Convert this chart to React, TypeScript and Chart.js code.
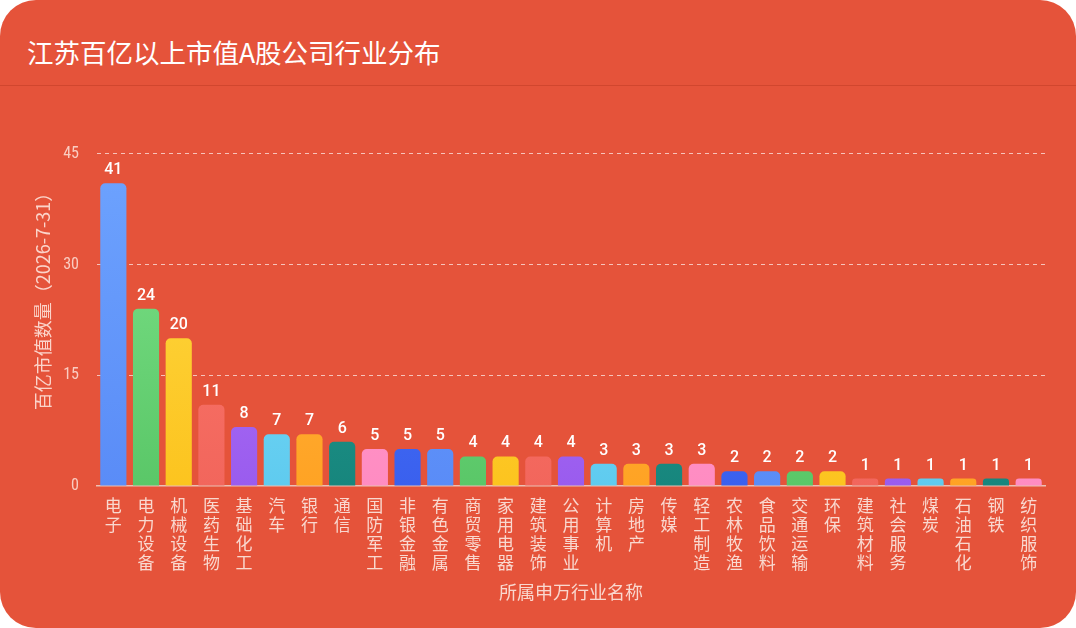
import React, { useEffect, useRef } from 'react';
import { Chart, registerables } from 'chart.js';

Chart.register(...registerables);

const chartTitle = '江苏百亿以上市值A股公司行业分布';
const yAxisTitle = '百亿市值数量（2026-7-31）';
const xAxisTitle = '所属申万行业名称';

const categories = [
  '电子', '电力设备', '机械设备', '医药生物', '基础化工', '汽车', '银行', '通信',
  '国防军工', '非银金融', '有色金属', '商贸零售', '家用电器', '建筑装饰', '公用事业',
  '计算机', '房地产', '传媒', '轻工制造', '农林牧渔', '食品饮料', '交通运输', '环保',
  '建筑材料', '社会服务', '煤炭', '石油石化', '钢铁', '纺织服饰',
];

const counts = [41, 24, 20, 11, 8, 7, 7, 6, 5, 5, 5, 4, 4, 4, 4, 3, 3, 3, 3, 2, 2, 2, 2, 1, 1, 1, 1, 1, 1];

const yTicks = [0, 15, 30, 45];

const topColors = ['#70a6ff', '#85e890', '#ffde4d', '#ff7f72', '#bb80ff', '#8ee6ff', '#ffbd4a', '#2aa89c', '#ffa6d3', '#4f82ff'];
const bottomColors = ['#5a8cf7', '#5ac768', '#fcc41f', '#f2665c', '#9a5cee', '#5fcbef', '#ffa324', '#17867d', '#ff8cc2', '#3a60ee'];

const valueLabelPlugin = {
  id: 'valueLabels',
  afterDatasetsDraw(chart: any) {
    const { ctx } = chart;
    const meta = chart.getDatasetMeta(0);
    ctx.save();
    ctx.fillStyle = '#ffffff';
    ctx.font = '500 16px Roboto, "Noto Sans", sans-serif';
    ctx.textAlign = 'center';
    ctx.textBaseline = 'bottom';
    meta.data.forEach((bar: any, i: number) => {
      ctx.fillText(String(counts[i]), bar.x, bar.y - 5);
    });
    ctx.restore();
  },
};

export default function App() {
  const canvasRef = useRef<HTMLCanvasElement>(null);

  useEffect(() => {
    document.body.style.margin = '0';
    document.body.style.background = '#ffffff';
    const canvas = canvasRef.current;
    if (!canvas) return;

    const chart = new Chart(canvas, {
      type: 'bar',
      data: {
        labels: categories.map((c) => c.split('')),
        datasets: [
          {
            data: counts,
            backgroundColor: (ctx: any) => {
              const i = ctx.dataIndex ?? 0;
              const area = ctx.chart.chartArea;
              const top = topColors[i % topColors.length];
              const bottom = bottomColors[i % bottomColors.length];
              if (!area) return bottom;
              const g = ctx.chart.ctx.createLinearGradient(0, area.top, 0, area.bottom);
              g.addColorStop(0, top);
              g.addColorStop(1, bottom);
              return g;
            },
            borderRadius: { topLeft: 5, topRight: 5, bottomLeft: 0, bottomRight: 0 },
            borderSkipped: false,
            barPercentage: 0.8,
            categoryPercentage: 1,
          },
        ],
      },
      options: {
        responsive: true,
        maintainAspectRatio: false,
        animation: false,
        layout: { padding: { left: 0, right: 31, top: 108, bottom: 0 } },
        plugins: {
          legend: { display: false },
          tooltip: { enabled: false },
        },
        scales: {
          x: {
            grid: { display: false, drawTicks: false },
            border: { display: true, color: 'rgba(235,205,195,0.9)', width: 1.5 },
            ticks: {
              color: '#f9d8cf',
              font: { size: 17, family: '"Noto Sans CJK SC", sans-serif', lineHeight: '19px' },
              padding: 10,
              maxRotation: 0,
              minRotation: 0,
              autoSkip: false,
            },
            title: {
              display: true,
              text: xAxisTitle,
              color: '#f9d8cf',
              font: { size: 18, family: '"Noto Sans CJK SC", sans-serif', lineHeight: 1.2 },
              padding: { top: 0, bottom: 25 },
            },
            afterFit: (scale: any) => {
              scale.height = 628 - 486;
            },
          },
          y: {
            min: 0,
            max: 51.2,
            grid: {
              drawTicks: false,
              color: (ctx: any) => (ctx.tick && ctx.tick.value === 0 ? 'rgba(0,0,0,0)' : 'rgba(255,255,255,0.65)'),
              lineWidth: 1,
              dash: [4, 4],
            },
            border: { display: false, dash: [4, 4] },
            ticks: {
              stepSize: 15,
              includeBounds: false,
              color: 'rgba(255,235,228,0.8)',
              font: { size: 16, family: '"Roboto Condensed", Roboto, "Noto Sans", sans-serif' },
              padding: 18,
              callback: (v: any) => (yTicks.includes(Number(v)) ? String(v) : ''),
            },
            title: {
              display: true,
              text: yAxisTitle,
              color: 'rgba(255,235,228,0.85)',
              font: { size: 18, family: '"Noto Sans CJK SC", sans-serif', lineHeight: 1.2 },
              padding: { top: 32, bottom: 0 },
            },
            afterFit: (scale: any) => {
              scale.width = 97;
            },
          },
        },
      },
      plugins: [valueLabelPlugin],
    } as any);

    return () => chart.destroy();
  }, []);

  return (
    <div
      style={{
        position: 'relative',
        width: 1076,
        height: 628,
        background: '#e5533a',
        borderRadius: 36,
        overflow: 'hidden',
        fontFamily: '"Noto Sans CJK SC", "Noto Sans", sans-serif',
      }}
    >
      <div
        style={{
          position: 'absolute',
          left: 27,
          top: 37,
          fontSize: 26.5,
          lineHeight: '30px',
          color: '#ffffff',
          fontWeight: 400,
          whiteSpace: 'nowrap',
        }}
      >
        {chartTitle}
      </div>
      <div
        style={{
          position: 'absolute',
          left: 0,
          right: 0,
          top: 85,
          height: 1,
          background: 'rgba(150,30,10,0.25)',
        }}
      />
      <div style={{ position: 'absolute', left: 0, top: 0, width: 1076, height: 628 }}>
        <canvas ref={canvasRef} />
      </div>
    </div>
  );
}
